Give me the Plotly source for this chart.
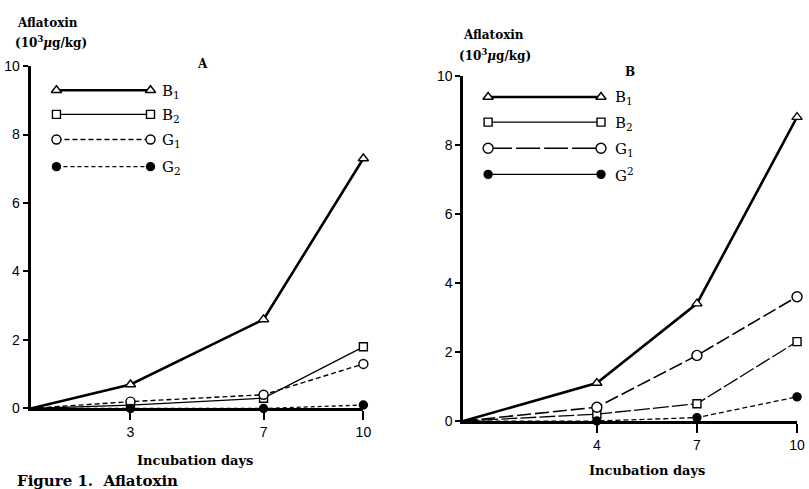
import plotly.graph_objects as go

# ---------------- data ----------------
days_A = [0, 3, 7, 10]
A_B1 = [0, 0.7, 2.6, 7.3]
A_B2 = [0, 0.1, 0.3, 1.8]
A_G1 = [0, 0.2, 0.4, 1.3]
A_G2 = [0, 0.0, 0.0, 0.1]

days_B = [0, 4, 7, 10]
B_B1 = [0, 1.1, 3.4, 8.8]
B_B2 = [0, 0.2, 0.5, 2.3]
B_G1 = [0, 0.4, 1.9, 3.6]
B_G2 = [0, 0.0, 0.1, 0.7]

xticks_A = [3, 7, 10]
xticks_B = [4, 7, 10]
yticks = [0, 2, 4, 6, 8, 10]
names_A = ["B<sub>1</sub>", "B<sub>2</sub>", "G<sub>1</sub>", "G<sub>2</sub>"]
names_B = ["B<sub>1</sub>", "B<sub>2</sub>", "G<sub>1</sub>", "G<sup>2</sup>"]

W, H = 809, 489
SERIF = "DejaVu Serif, Liberation Serif, serif"
SANS = "Liberation Sans, Arial, sans-serif"

# ---------------- styles ----------------
def mk(symbol, fill, size=9, lw=1.4):
    return dict(symbol=symbol, color=fill, size=size, opacity=1,
                line=dict(color="black", width=lw))

style_A = [
    dict(line=dict(color="black", width=2.6), marker=mk("triangle-up", "white")),
    dict(line=dict(color="black", width=1.3), marker=mk("square", "white", 8)),
    dict(line=dict(color="black", width=1.4, dash="5px,3px"), marker=mk("circle", "white")),
    dict(line=dict(color="black", width=1.3, dash="4px,3px"), marker=mk("circle", "black", 8)),
]
style_B = [
    dict(line=dict(color="black", width=2.6), marker=mk("triangle-up", "white")),
    dict(line=dict(color="black", width=1.3, dash="16px,3px"), marker=mk("square", "white", 8)),
    dict(line=dict(color="black", width=1.6, dash="14px,4px"), marker=mk("circle", "white", 10)),
    dict(line=dict(color="black", width=1.3, dash="5px,3px"), marker=mk("circle-dot", "black", 8, 1.4)),
]
legend_style_B = [
    dict(color="black", width=2.6),
    dict(color="black", width=1.3),
    dict(color="black", width=1.4, dash="24px,4px"),
    dict(color="black", width=1.3),
]

fig = go.Figure()

def add_panel(days, series, styles, xa, ya):
    for vals, st in zip(series, styles):
        m = dict(st["marker"])
        m["size"] = [0] + [m["size"]] * (len(days) - 1)
        fig.add_trace(go.Scatter(x=days, y=vals, mode="lines+markers", line=st["line"],
                                 marker=m, xaxis=xa, yaxis=ya, cliponaxis=False,
                                 showlegend=False, hoverinfo="skip"))

add_panel(days_A, [A_B1, A_B2, A_G1, A_G2], style_A, "x", "y")
add_panel(days_B, [B_B1, B_B2, B_G1, B_G2], style_B, "x2", "y2")

# ---------------- custom legend keys (pixel overlay axis) ----------------
leg_A = dict(x0=57, x1=152, rows=[85, 110, 136, 164], tx=162)
leg_B = dict(x0=493, x1=607, rows=[92, 118, 145, 172], tx=619)

def add_legend(spec, styles, line_styles, names):
    for i, (st, nm) in enumerate(zip(styles, names)):
        y = spec["rows"][i]
        ls = line_styles[i] if line_styles else st["line"]
        fig.add_trace(go.Scatter(x=[spec["x0"], spec["x1"]], y=[y, y], mode="lines+markers",
                                 line=ls, marker=st["marker"], xaxis="x3", yaxis="y3",
                                 cliponaxis=False, showlegend=False, hoverinfo="skip"))
        fig.add_annotation(x=spec["tx"], y=y + 1, xref="x3", yref="y3", text=nm,
                           showarrow=False, xanchor="left", yanchor="middle",
                           font=dict(family=SERIF, size=15, color="black"))

add_legend(leg_A, style_A, None, names_A)
add_legend(leg_B, style_B, legend_style_B, names_B)

# ---------------- text ----------------
texts = [
    (48, 15, "<b>Aflatoxin</b>", 12),
    (52, 35, "<b>(10<sup>3</sup><i>μ</i>g/kg)</b>", 12),
    (205, 58, "<b>A</b>", 12),
    (498, 28, "<b>Aflatoxin</b>", 12),
    (500, 49, "<b>(10<sup>3</sup><i>μ</i>g/kg)</b>", 12),
    (636, 66, "<b>B</b>", 12),
    (197, 468, "<b>Incubation days</b>", 13),
    (653, 478, "<b>Incubation days</b>", 13),
    (98, 489, "<b>Figure 1.  Aflatoxin</b>", 15),
]
for x, y, t, s in texts:
    fig.add_annotation(x=x, y=y, xref="x3", yref="y3", text=t, showarrow=False,
                       xanchor="center", yanchor="middle",
                       font=dict(family=SERIF, size=s, color="black"))

# ---------------- axes ----------------
def px_x(a, b):
    return [a / W, b / W]

def px_y(bottom, top):
    return [(H - bottom) / H, (H - top) / H]

axis_common = dict(showgrid=False, zeroline=False, showline=True, linecolor="black",
                   ticks="outside", tickcolor="black",
                   tickfont=dict(family=SANS, size=14, color="black"))

fig.update_layout(
    width=W, height=H, margin=dict(l=0, r=0, t=0, b=0),
    paper_bgcolor="white", plot_bgcolor="rgba(0,0,0,0)",
    xaxis=dict(domain=px_x(31, 367), range=[0, 10], tickvals=xticks_A, ticklen=9, tickwidth=1.6,
               linewidth=3, anchor="y", **axis_common),
    yaxis=dict(domain=px_y(414, 60), range=[0, 10], tickvals=yticks, ticklen=5, tickwidth=1.6,
               linewidth=3, anchor="x", **axis_common),
    xaxis2=dict(domain=px_x(468, 805), range=[0, 10], tickvals=xticks_B, ticklen=9, tickwidth=1.6,
                linewidth=3, anchor="y2", **axis_common),
    yaxis2=dict(domain=px_y(427, 70), range=[0, 10], tickvals=yticks, ticklen=5, tickwidth=1.6,
                linewidth=3, anchor="x2", **axis_common),
    xaxis3=dict(domain=[0, 1], range=[0, W], visible=False, anchor="y3"),
    yaxis3=dict(domain=[0, 1], range=[H, 0], visible=False, anchor="x3"),
)

fig.write_html("out.html")
